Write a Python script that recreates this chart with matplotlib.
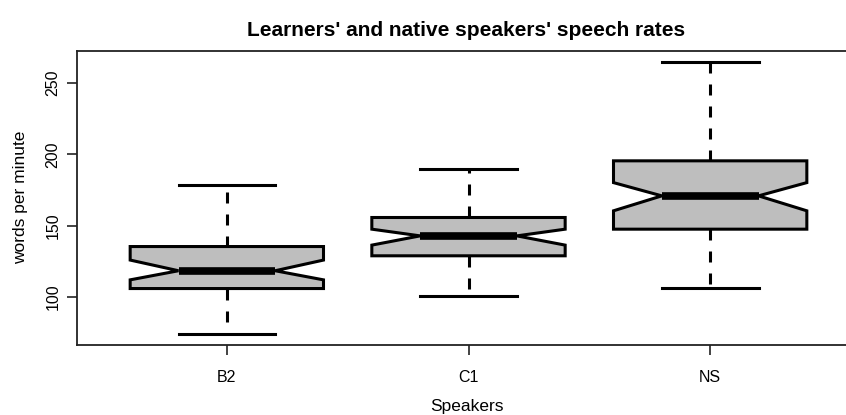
import matplotlib
matplotlib.use("Agg")
import matplotlib.pyplot as plt

plt.rcParams['font.family'] = ['Liberation Sans', 'DejaVu Sans']

categories = ["B2", "C1", "NS"]
whisker_low = [73.8, 100.7, 106.5]
q1 = [105.8, 128.8, 147.5]
notch_low = [111.9, 136.3, 160.4]
median = [118.3, 142.8, 170.9]
notch_high = [125.8, 147.5, 180.2]
q3 = [135.3, 155.7, 195.5]
whisker_high = [178.4, 189.7, 265.2]
yticks = [100, 150, 200, 250]

title = "Learners' and native speakers' speech rates"
xlabel = "Speakers"
ylabel = "words per minute"

W, H = 846, 415
fig = plt.figure(figsize=(W / 100, H / 100), dpi=100)
left, right, top, bottom = 77, 860, 50.7, 345
ax = fig.add_axes([left / W, (H - bottom) / H, (right - left) / W, (bottom - top) / H])

stats = []
for i, c in enumerate(categories):
    stats.append(dict(label=c, whislo=whisker_low[i], q1=q1[i], med=median[i],
                      q3=q3[i], whishi=whisker_high[i], cilo=notch_low[i],
                      cihi=notch_high[i], fliers=[]))

positions = list(range(1, len(categories) + 1))
ax.bxp(stats, positions=positions, widths=0.8, shownotches=True, patch_artist=True,
       showfliers=False,
       boxprops=dict(facecolor='#BEBEBE', edgecolor='black', linewidth=2.2),
       medianprops=dict(color='black', linewidth=5.5, solid_capstyle='butt'),
       whiskerprops=dict(color='black', linewidth=2.2, linestyle=(0, (3.6, 3.6))),
       capprops=dict(color='black', linewidth=2.2))

lo = min(whisker_low)
hi = max(whisker_high)
pad = 0.04 * (hi - lo)
ax.set_ylim(lo - pad, hi + pad)
ax.set_xlim(0.38, 3.62)

ax.set_yticks(yticks)
ax.set_yticklabels([str(t) for t in yticks], rotation=90, va='center', fontsize=11.5)
ax.set_xticks(positions)
ax.set_xticklabels(categories, fontsize=11.5)
ax.tick_params(axis='both', direction='out', length=7, width=1.2, color='#222222', pad=5)
ax.tick_params(axis='x', pad=11)

for s in ['left', 'bottom', 'top']:
    ax.spines[s].set_linewidth(1.3)
    ax.spines[s].set_color('#222222')
ax.spines['right'].set_visible(False)

fig.text(466 / W, 1 - 30 / H, title, ha='center', va='center', fontsize=15, fontweight='bold')
fig.text(467 / W, 1 - 406 / H, xlabel, ha='center', va='center', fontsize=12.5)
fig.text(21 / W, 1 - 197 / H, ylabel, ha='center', va='center', rotation=90, fontsize=12.5)

fig.savefig("out.png", dpi=100)
